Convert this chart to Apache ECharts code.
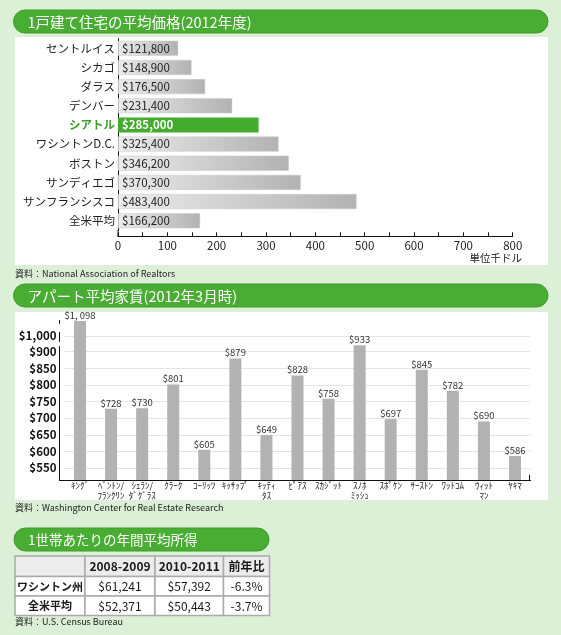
<!DOCTYPE html>
<html>
<head>
<meta charset="utf-8">
<script src="https://cdn.jsdelivr.net/npm/echarts@6.0.0/dist/echarts.min.js"></script>
<style>
  html, body { margin: 0; padding: 0; background: #dcefd7; }
  #chart { width: 561px; height: 635px; }
</style>
</head>
<body>
<div id="chart"></div>
<script>
var FONT = '"Noto Sans CJK JP", "Noto Sans", sans-serif';

// 1戸建て住宅の平均価格（千ドル）
var houseCities = ['セントルイス', 'シカゴ', 'ダラス', 'デンバー', 'シアトル', 'ワシントンD.C.', 'ボストン', 'サンディエゴ', 'サンフランシスコ', '全米平均'];
var housePrices = [121.8, 148.9, 176.5, 231.4, 285.0, 325.4, 346.2, 370.3, 483.4, 166.2];
var houseHighlight = 'シアトル';

// アパート平均家賃（ドル） - 郡名は半角カナ表記
var rentCounties = ['ｷﾝｸﾞ', 'ﾍﾞﾝﾄﾝ/\nﾌﾗﾝｸﾘﾝ', 'ｼｪﾗﾝ/\nﾀﾞｸﾞﾗｽ', 'ｸﾗｰｸ', 'ｺｰﾘｯﾂ', 'ｷｯｻｯﾌﾟ', 'ｷｯﾃｨ\nﾀｽ', 'ﾋﾟｱｽ', 'ｽｶｼﾞｯﾄ', 'ｽﾉﾎ\nﾐｯｼｭ', 'ｽﾎﾟｹﾝ', 'ｻｰｽﾄﾝ', 'ﾜｯﾄｺﾑ', 'ｳｨｯﾄ\nﾏﾝ', 'ﾔｷﾏ'];
var rentValues = [1098, 728, 730, 801, 605, 879, 649, 828, 758, 933, 697, 845, 782, 690, 586];
var rentTicks = [550, 600, 650, 700, 750, 800, 850, 900, 1000];

// 1世帯あたりの年間平均所得
var incomeCols = ['2008-2009', '2010-2011', '前年比'];
var incomeRows = ['ワシントン州', '全米平均'];
var incomeWA = [61241, 57392, -6.3];
var incomeUS = [52371, 50443, -3.7];

function money(v) {
  return '$' + Math.round(v).toLocaleString('en-US');
}

var chart = echarts.init(document.getElementById('chart'));

var GREEN = '#49ad33';
var g = [];

// panels
g.push({ type: 'rect', z: -10, shape: { x: 15, y: 37, width: 533, height: 228 }, style: { fill: '#fff' } });
g.push({ type: 'rect', z: -10, shape: { x: 15, y: 312, width: 533, height: 188 }, style: { fill: '#fff' } });

// headers
function header(x, y, w, text, size) {
  g.push({ type: 'rect', z: -5, shape: { x: x, y: y, width: w, height: 23, r: 11.5 },
    style: { fill: GREEN, stroke: '#3e9d2a', lineWidth: 1 } });
  g.push({ type: 'text', z: -4, x: x + 14, y: y + 12,
    style: { text: text, fill: '#fff', fontSize: size, fontFamily: FONT, verticalAlign: 'middle' } });
}
header(13.5, 10, 534.5, '1戸建て住宅の平均価格(2012年度)', 14.5);
header(13.5, 284, 534.5, 'アパート平均家賃(2012年3月時)', 14.5);
header(14, 528, 255, '1世帯あたりの年間平均所得', 13.5);

// sources
function source(y, text) {
  g.push({ type: 'text', x: 15, y: y,
    style: { text: text, fill: '#222', fontSize: 9, fontFamily: FONT, verticalAlign: 'middle' } });
}
source(274, '資料：National Association of Realtors');
source(508, '資料：Washington Center for Real Estate Research');
source(622, '資料：U.S. Census Bureau');

// unit
g.push({ type: 'text', x: 522, y: 258,
  style: { text: '単位千ドル', fill: '#222', fontSize: 10.5, fontFamily: FONT, align: 'right', verticalAlign: 'middle' } });

// axis joins
g.push({ type: 'line', shape: { x1: 118, y1: 230, x2: 118, y2: 236.5 }, style: { stroke: '#111', lineWidth: 1 } });
g.push({ type: 'line', shape: { x1: 59, y1: 480.5, x2: 65, y2: 480.5 }, style: { stroke: '#111', lineWidth: 1 } });
g.push({ type: 'line', shape: { x1: 529.5, y1: 475, x2: 529.5, y2: 480.5 }, style: { stroke: '#111', lineWidth: 1 } });

// table
var colX = [15, 85, 155, 223.5, 269.5];
var rowY = [556, 576.5, 596, 615.5];
var cells = [[''].concat(incomeCols)];
[incomeWA, incomeUS].forEach(function (r, i) {
  cells.push([incomeRows[i], money(r[0]), money(r[1]), r[2].toFixed(1) + '%']);
});
cells.forEach(function (row, ri) {
  row.forEach(function (txt, ci) {
    var x = colX[ci], y = rowY[ri], w = colX[ci + 1] - x, h = rowY[ri + 1] - y;
    g.push({ type: 'rect', shape: { x: x, y: y, width: w, height: h },
      style: { fill: ri === 0 ? '#ececec' : '#fff', stroke: '#aaaaaa', lineWidth: 1.5 } });
    g.push({ type: 'text', x: x + w / 2, y: y + h / 2 + 0.5,
      style: { text: txt, fill: '#1a1a1a', fontSize: ci === 0 ? 11 : 12, fontFamily: FONT,
        fontWeight: (ri === 0 || ci === 0) ? 'bold' : 'normal', align: 'center', verticalAlign: 'middle' } });
  });
});

chart.setOption({
  animation: false,
  textStyle: { fontFamily: FONT },
  graphic: g,
  grid: [
    { left: 118, right: 48.3, top: 38.7, height: 191.6 },
    { left: 64.5, right: 30.5, top: 320.3, height: 159.7 }
  ],
  xAxis: [
    {
      gridIndex: 0, type: 'value', min: 0, max: 800, interval: 100, offset: 6,
      axisLine: { show: true, lineStyle: { color: '#111', width: 1 } },
      axisTick: { show: true, inside: true, length: 4, lineStyle: { color: '#111' } },
      minorTick: { show: true, splitNumber: 2, length: 4, lineStyle: { color: '#111' } },
      splitLine: { show: false },
      axisLabel: { color: '#222', fontSize: 11.5, margin: 4 }
    },
    {
      gridIndex: 1, type: 'category', data: rentCounties,
      axisLine: { show: true, lineStyle: { color: '#111', width: 1 } },
      axisTick: { show: false },
      axisLabel: { interval: 0, color: '#222', fontSize: 9, lineHeight: 10, margin: 1 }
    }
  ],
  yAxis: [
    {
      gridIndex: 0, type: 'category', data: houseCities, inverse: true,
      axisLine: { show: true, lineStyle: { color: '#111', width: 1 } },
      axisTick: { show: false },
      axisLabel: {
        color: '#222', fontSize: 11.5, margin: 3,
        formatter: function (v) { return v === houseHighlight ? '{hl|' + v + '}' : v; },
        rich: { hl: { color: '#3a9c27', fontWeight: 'bold', fontSize: 11.5 } }
      }
    },
    {
      gridIndex: 1, type: 'value', min: 514, max: 1100, offset: 5,
      breaks: [
        { start: 915, end: 985, gap: 17 },
        { start: 1010, end: 1090, gap: 27 }
      ],
      breakArea: { show: false },
      axisLine: { show: true, lineStyle: { color: '#111', width: 1 } },
      axisTick: { show: false, customValues: rentTicks },
      splitLine: { show: true, lineStyle: { color: '#e4e4e4', width: 1 } },
      axisLabel: {
        customValues: rentTicks, color: '#111', fontSize: 11.5, fontWeight: 'bold', margin: 3,
        padding: [0, 0, 4, 0],
        formatter: function (v) { return money(v); }
      }
    }
  ],
  series: [
    {
      type: 'bar', xAxisIndex: 0, yAxisIndex: 0, barWidth: 15,
      data: housePrices.map(function (v, i) {
        var hl = houseCities[i] === houseHighlight;
        return {
          value: v,
          itemStyle: hl ? { color: '#44ab2e' } : {
            color: new echarts.graphic.LinearGradient(0, 0, 1, 0, [
              { offset: 0, color: '#ececec' }, { offset: 1, color: '#b2b2b2' }
            ]),
            borderColor: '#c8c8c8', borderWidth: 0.5
          },
          label: hl ? { color: '#fff', fontWeight: 'bold' } : {}
        };
      }),
      label: {
        show: true, position: 'insideLeft', distance: 4, color: '#222', fontSize: 11.5,
        formatter: function (p) { return money(p.value * 1000); }
      }
    },
    {
      type: 'bar', xAxisIndex: 1, yAxisIndex: 1, barWidth: 12,
      data: rentValues,
      itemStyle: { color: '#b3b1b3' },
      label: {
        show: true, position: 'top', distance: 1, color: '#333', fontSize: 9.5,
        formatter: function (p) {
          var v = p.value;
          return v >= 1000 ? '$' + Math.floor(v / 1000) + ', ' + String(v % 1000).padStart(3, '0') : '$' + v;
        }
      }
    }
  ]
});
</script>
</body>
</html>
